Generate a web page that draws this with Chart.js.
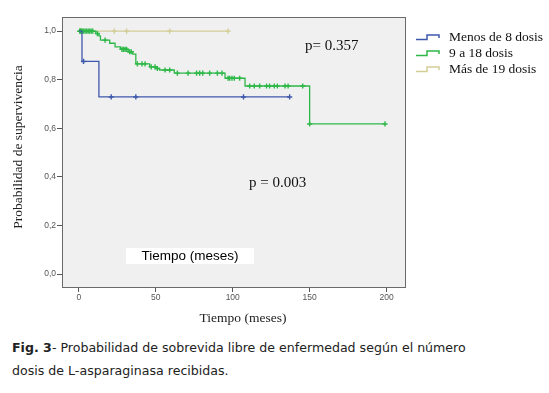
<!DOCTYPE html>
<html>
<head>
<meta charset="utf-8">
<script src="https://cdn.jsdelivr.net/npm/chart.js@4"></script>
<style>
body { margin: 0; background: #fff; width: 549px; height: 393px; overflow: hidden; position: relative; }
#wrap { position: absolute; left: 0; top: 0; width: 549px; height: 335px; }
#caption { position: absolute; left: 12px; top: 336px; width: 537px; font: 12.6px "DejaVu Sans", Verdana, sans-serif; line-height: 23px; color: #222; white-space: nowrap; }
</style>
</head>
<body>
<div id="wrap"><canvas id="km" width="549" height="335"></canvas></div>
<div id="caption"><b>Fig. 3</b>- Probabilidad de sobrevida libre de enfermedad según el número<br>dosis de L-asparaginasa recibidas.</div>
<script>
var grupos = ["Menos de 8 dosis", "9 a 18 dosis", "Más de 19 dosis"];
var colores = ["#3e58ac", "#2eb848", "#d3ce97"];
var xTicks = [0, 50, 100, 150, 200];
var yTicks = [0, 0.2, 0.4, 0.6, 0.8, 1.0];

// Menos de 8 dosis
var menosTiempo = [0, 2, 13, 137];
var menosSuperv = [1, 0.875, 0.729, 0.729];
var menosCensura = [3, 21, 37, 107, 137];

// 9 a 18 dosis
var nueveTiempo = [0, 11, 13, 14, 20, 23.5, 27, 32, 35, 37, 46, 50.5, 52.5, 62, 95, 108, 150, 199];
var nueveSuperv = [1, 0.99, 0.98, 0.963, 0.95, 0.935, 0.925, 0.915, 0.905, 0.865, 0.853, 0.846, 0.84, 0.827, 0.806, 0.774, 0.618, 0.618];
var nueveCensura = [0.5, 1, 1.5, 2, 3, 4, 5, 6, 7, 8, 9, 12, 17, 28, 29, 30, 31, 33, 34, 38, 41, 43, 47, 49.5, 51, 56, 59,
  64, 71, 76.5, 78.5, 80.5, 85, 90, 93, 97, 98, 99.5, 101, 104.5, 111, 114, 117.5, 122, 124, 127, 129, 134, 136, 145.5, 150, 199];

// Más de 19 dosis
var masTiempo = [0, 97];
var masSuperv = [1, 1];
var masCensura = [1, 2, 23, 31, 59, 97];

function curva(t, s) {
  return t.map(function (v, i) { return { x: v, y: s[i] }; });
}
function survEn(t, s, x) {
  var v = s[0];
  for (var i = 0; i < t.length; i++) if (t[i] <= x) v = s[i];
  return v;
}
function censuras(c, t, s) {
  return c.map(function (x) { return { x: x, y: survEn(t, s, x) }; });
}

var series = [
  [menosTiempo, menosSuperv, menosCensura],
  [nueveTiempo, nueveSuperv, nueveCensura],
  [masTiempo, masSuperv, masCensura]
];
var datasets = [];
series.forEach(function (g, i) {
  datasets.push({
    label: grupos[i], data: curva(g[0], g[1]), stepped: true,
    borderColor: colores[i], borderWidth: 1.3, pointRadius: 0, fill: false
  });
  datasets.push({
    label: grupos[i] + " censurado", data: censuras(g[2], g[0], g[1]), showLine: false,
    pointStyle: "cross", pointRadius: 2.6, borderColor: colores[i], borderWidth: 1.4
  });
});

var tickFont = { family: "Liberation Sans, Arial, sans-serif", size: 8.5 };

var fondo = {
  id: "fondo",
  beforeDraw: function (chart) {
    var a = chart.chartArea, ctx = chart.ctx;
    ctx.save();
    ctx.fillStyle = "#f0f0f0";
    ctx.fillRect(a.left, a.top, a.right - a.left, a.bottom - a.top);
    ctx.restore();
  },
  afterDraw: function (chart) {
    var a = chart.chartArea, ctx = chart.ctx;
    ctx.save();
    ctx.strokeStyle = "#6a6a6a";
    ctx.lineWidth = 1;
    ctx.strokeRect(a.left + 0.5, a.top + 0.5, a.right - a.left, a.bottom - a.top);

    var serif = "Liberation Serif, 'Times New Roman', serif";
    ctx.fillStyle = "#111";
    ctx.textBaseline = "middle";
    ctx.textAlign = "left";
    ctx.font = "15px " + serif;
    ctx.fillText("p= 0.357", 305, 46);
    ctx.fillText("p = 0.003", 249, 183);

    ctx.fillStyle = "#fff";
    ctx.fillRect(126, 248, 128, 16);
    ctx.fillStyle = "#000";
    ctx.textAlign = "center";
    ctx.font = "13.5px Liberation Sans, Arial, sans-serif";
    ctx.fillText("Tiempo (meses)", 190, 256.5);

    ctx.fillStyle = "#222";
    ctx.font = "13.5px " + serif;
    ctx.fillText("Tiempo (meses)", 243, 318);
    ctx.save();
    ctx.translate(18, 147);
    ctx.rotate(-Math.PI / 2);
    ctx.fillText("Probabilidad de supervivencia", 0, 0);
    ctx.restore();

    // leyenda con iconos escalonados
    ctx.textAlign = "left";
    grupos.forEach(function (g, i) {
      var cy = 37 + i * 16;
      ctx.strokeStyle = colores[i];
      ctx.lineWidth = 1.5;
      ctx.beginPath();
      ctx.moveTo(416, cy + 2.5);
      ctx.lineTo(427, cy + 2.5);
      ctx.lineTo(427, cy - 2);
      ctx.lineTo(439, cy - 2);
      ctx.lineTo(439, cy + 1);
      ctx.stroke();
      ctx.fillStyle = "#111";
      ctx.font = "13.5px " + serif;
      ctx.fillText(g, 449, cy);
    });
    ctx.restore();
  }
};

var chart = new Chart(document.getElementById("km").getContext("2d"), {
  type: "line",
  data: { datasets: datasets },
  options: {
    responsive: false,
    animation: false,
    layout: { padding: { left: 0, right: 144, top: 17, bottom: 0 } },
    plugins: { legend: { display: false }, tooltip: { enabled: false } },
    scales: {
      x: {
        type: "linear", min: -11, max: 212,
        afterBuildTicks: function (s) { s.ticks = xTicks.map(function (v) { return { value: v }; }); },
        afterFit: function (s) { s.height = 48; },
        ticks: { font: tickFont, color: "#555", padding: 1, maxRotation: 0 },
        grid: { drawOnChartArea: false, tickLength: 5, color: "#555" },
        border: { color: "#444", width: 1 }
      },
      y: {
        type: "linear", min: -0.053, max: 1.058,
        afterBuildTicks: function (s) { s.ticks = yTicks.map(function (v) { return { value: v }; }); },
        afterFit: function (s) { s.width = 62; },
        ticks: { font: tickFont, color: "#555", padding: 1, callback: function (v) { return v.toFixed(1).replace(".", ","); } },
        grid: { drawOnChartArea: false, tickLength: 5, color: "#555" },
        border: { color: "#444", width: 1 }
      }
    }
  },
  plugins: [fondo]
});
</script>
</body>
</html>
